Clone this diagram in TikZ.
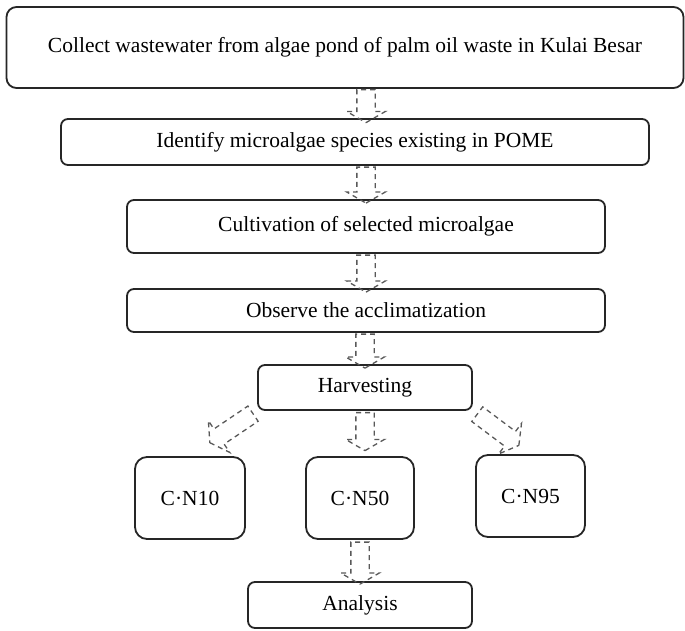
\documentclass[tikz,border=0pt]{standalone}
\usepackage{fontspec}
\setmainfont{Liberation Serif}
\usepackage{tikz}
\usetikzlibrary{shapes, shapes.arrows, calc, positioning}

\begin{document}
\begin{tikzpicture}[x=1pt, y=1pt,
	box/.style={draw=black!85, line width=1.8pt, rounded corners=7pt, inner sep=0pt, font=\fontsize{21.5}{25}\selectfont},
	barrow/.style={single arrow, draw=black!65, dash pattern=on 5pt off 4pt, line width=1.3pt, minimum height=#1, inner xsep=0pt, inner ysep=8.5pt, single arrow head extend=10pt, single arrow tip angle=120, sloped, allow upside down},
	barrow/.default=34pt]
			\useasboundingbox (0,0) rectangle (685,630);
			
			\node [box, minimum width=677pt, minimum height=81pt, rounded corners=10pt] (collect) at (345,582.5) {Collect wastewater from algae pond of palm oil waste in Kulai Besar};
			\node [box, minimum width=588pt, minimum height=46pt] (identify) at (355,488) {Identify microalgae species existing in POME};
			\node [box, minimum width=478pt, minimum height=53pt] (cultivate) at (366,403.5) {Cultivation of selected microalgae};
			\node [box, minimum width=478pt, minimum height=43pt] (observe) at (366,319.5) {Observe the acclimatization};
			\node [box, minimum width=214pt, minimum height=45pt] (harvest) at (365,242.5) {Harvesting};
			
			\node [box, minimum width=110pt, minimum height=82pt, rounded corners=12pt] (cnten) at (190,132) {C·N10};
			\node [box, minimum width=108pt, minimum height=82pt, rounded corners=12pt] (cnfifty) at (360,132) {C·N50};
			\node [box, minimum width=109pt, minimum height=82pt, rounded corners=12pt] (cnninety) at (530.5,134) {C·N95};
			\node [box, minimum width=224pt, minimum height=46pt] (analysis) at (360,25) {Analysis};
			
			% dashed block arrows
			\path (collect.south -| observe) -- node[barrow=33pt] {} (identify.north -| observe);
			\path (identify.south -| observe) -- node[barrow=36pt] {} (cultivate.north);
			\path (cultivate.south) -- node[barrow=37pt] {} (observe.north);
			\path (observe.south -| harvest) -- node[barrow=34pt] {} (harvest.north);
			
			\path (harvest.south west) -- node[barrow=52pt, pos=.35] {} (cnten.north);
			\path (harvest.south) -- node[barrow=38pt, pos=.4] {} (cnfifty.north -| harvest);
			\path (harvest.south east) -- node[barrow=52pt, pos=.4] {} (cnninety.north);
			
			\path (cnfifty.south) -- node[barrow=42pt] {} (analysis.north);
\end{tikzpicture}
\end{document}
